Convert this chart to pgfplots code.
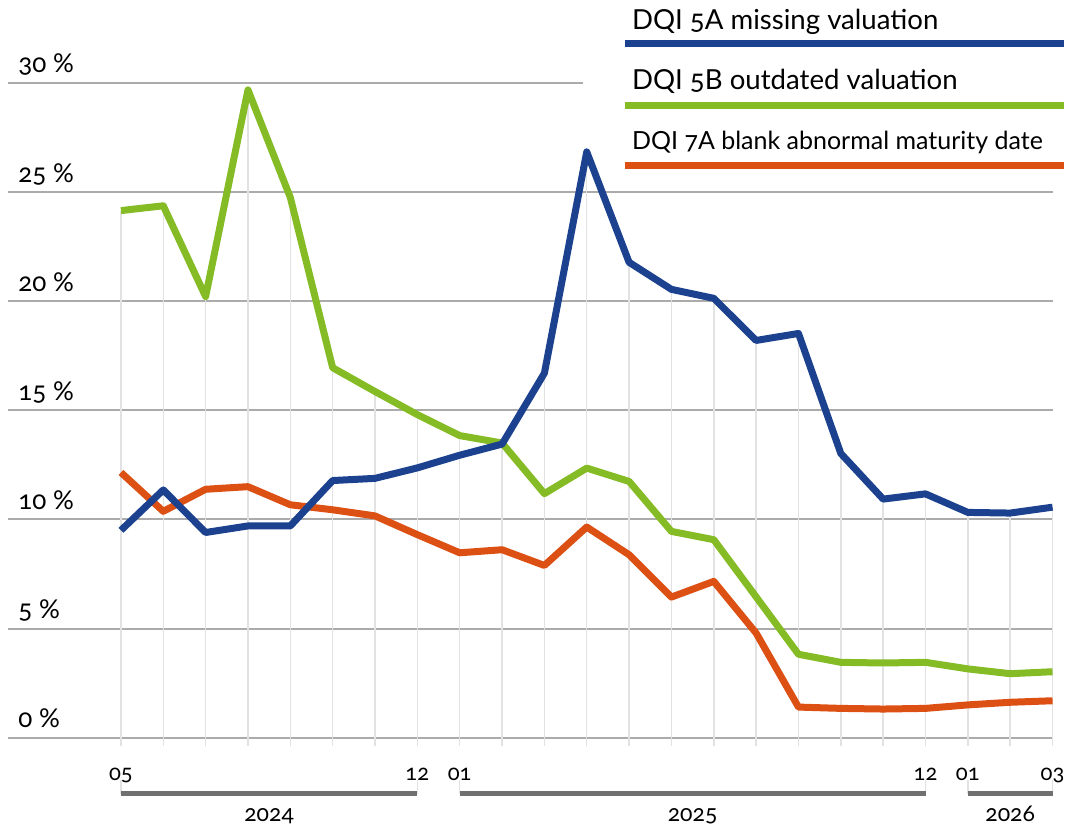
\documentclass[border=0pt]{standalone}
\usepackage{fontspec}
\setmainfont{Lato}[Numbers=OldStyle]
\usepackage{pgfplots}
\usepackage{pgfplotstable}
\pgfplotsset{compat=1.18}

\definecolor{dqiblue}{HTML}{1C428F}
\definecolor{dqigreen}{HTML}{85BC26}
\definecolor{dqiorange}{HTML}{DC5014}
\definecolor{hgrid}{HTML}{ABABAB}
\definecolor{vgrid}{HTML}{E2E2E2}
\definecolor{yearbar}{HTML}{707070}

% month index (0 = 2024-05 ... 22 = 2026-03), share of records in %
\pgfplotstableread{
m  a5     b5     a7
0  9.50   24.15  12.15
1  11.35  24.37  10.37
2  9.40   20.21  11.38
3  9.70   29.68  11.50
4  9.70   24.75  10.67
5  11.78  16.95  10.44
6  11.88  15.86  10.16
7  12.36  14.80  9.30
8  12.94  13.84  8.47
9  13.45  13.50  8.61
10 16.70  11.18  7.89
11 26.84  12.35  9.65
12 21.78  11.74  8.38
13 20.54  9.45   6.44
14 20.13  9.07   7.16
15 18.20  6.45   4.79
16 18.52  3.82   1.40
17 13.02  3.45   1.34
18 10.93  3.42   1.31
19 11.17  3.45   1.34
20 10.32  3.15   1.50
21 10.29  2.93   1.62
22 10.56  3.02   1.69
}\dqidata

\begin{document}
\begin{tikzpicture}
\begin{axis}[
  scale only axis,
  width=522.5pt, height=327.5pt,
  xmin=-2.667, xmax=22,
  ymin=0, ymax=30,
  clip=false,
  axis line style={draw=none},
  ytick={0,5,...,25},
  extra y ticks={30},
  extra y tick style={grid=none},
  ymajorgrids,
  major grid style={draw=hgrid, line width=1pt},
  ytick style={draw=none},
  yticklabel={\pgfmathprintnumber[assume math mode=true]{\tick}~\%},
  yticklabel style={anchor=base west, inner sep=0pt, xshift=9pt, yshift=5pt, font=\fontsize{13}{15}\selectfont},
  xtick={0,...,22},
  xticklabels={05,,,,,,,12,01,,,,,,,,,,,12,01,,03},
  xtick pos=bottom,
  tick align=outside,
  xtick style={draw=vgrid, line width=0.75pt},
  major tick length=4pt,
  xticklabel style={anchor=base, inner sep=0pt, yshift=-17.5pt, font=\fontsize{11}{13}\selectfont},
]
% page extent
\path (axis cs:-2.856,33.80) rectangle (axis cs:22.330,-4.168);

% short top gridline
\draw[hgrid, line width=1pt] (axis cs:-2.667,30) -- (axis cs:10.906,30);

% vertical guides up to the highest series value of each month
\addplot[ycomb, draw=vgrid, line width=0.75pt, mark=none]
  table[x=m, y expr={max(\thisrow{a5},\thisrow{b5},\thisrow{a7})}] {\dqidata};

% series
\addplot[dqigreen, line width=3.5pt, line join=round, mark=none] table[x=m, y=b5] {\dqidata};
\addplot[dqiorange, line width=3.5pt, line join=round, mark=none] table[x=m, y=a7] {\dqidata};
\addplot[dqiblue, line width=3.5pt, line join=round, mark=none] table[x=m, y=a5] {\dqidata};

% legend
\node[anchor=base west, inner sep=0pt, font=\fontsize{13.8}{16}\selectfont] at (axis cs:12.062,32.43) {DQI 5A missing valuation};
\draw[dqiblue, line width=3.5pt] (axis cs:11.897,31.79) -- (axis cs:22.259,31.79);
\node[anchor=base west, inner sep=0pt, font=\fontsize{13.8}{16}\selectfont] at (axis cs:12.062,29.68) {DQI 5B outdated valuation};
\draw[dqigreen, line width=3.5pt] (axis cs:11.897,28.97) -- (axis cs:22.259,28.97);
\node[anchor=base west, inner sep=0pt, font=\fontsize{12.5}{15}\selectfont] at (axis cs:12.062,26.93) {DQI 7A blank abnormal maturity date};
\draw[dqiorange, line width=3.5pt] (axis cs:11.897,26.20) -- (axis cs:22.259,26.20);

% year brackets
\draw[vgrid, line width=0.75pt] (axis cs:0,-1.92) -- (axis cs:0,-2.565);
\draw[vgrid, line width=0.75pt] (axis cs:7,-1.92) -- (axis cs:7,-2.565);
\draw[vgrid, line width=0.75pt] (axis cs:8,-1.92) -- (axis cs:8,-2.565);
\draw[vgrid, line width=0.75pt] (axis cs:19,-1.92) -- (axis cs:19,-2.565);
\draw[vgrid, line width=0.75pt] (axis cs:20,-1.92) -- (axis cs:20,-2.565);
\draw[vgrid, line width=0.75pt] (axis cs:22,-1.92) -- (axis cs:22,-2.565);
\draw[yearbar, line width=2.5pt] (axis cs:0,-2.565) -- (axis cs:7,-2.565);
\draw[yearbar, line width=2.5pt] (axis cs:8,-2.565) -- (axis cs:19,-2.565);
\draw[yearbar, line width=2.5pt] (axis cs:20,-2.565) -- (axis cs:22,-2.565);
\node[anchor=base, inner sep=0pt, font=\fontsize{11.5}{13}\selectfont] at (axis cs:3.5,-3.85) {2024};
\node[anchor=base, inner sep=0pt, font=\fontsize{11.5}{13}\selectfont] at (axis cs:13.5,-3.85) {2025};
\node[anchor=base, inner sep=0pt, font=\fontsize{11.5}{13}\selectfont] at (axis cs:21,-3.85) {2026};
\end{axis}
\end{tikzpicture}
\end{document}
